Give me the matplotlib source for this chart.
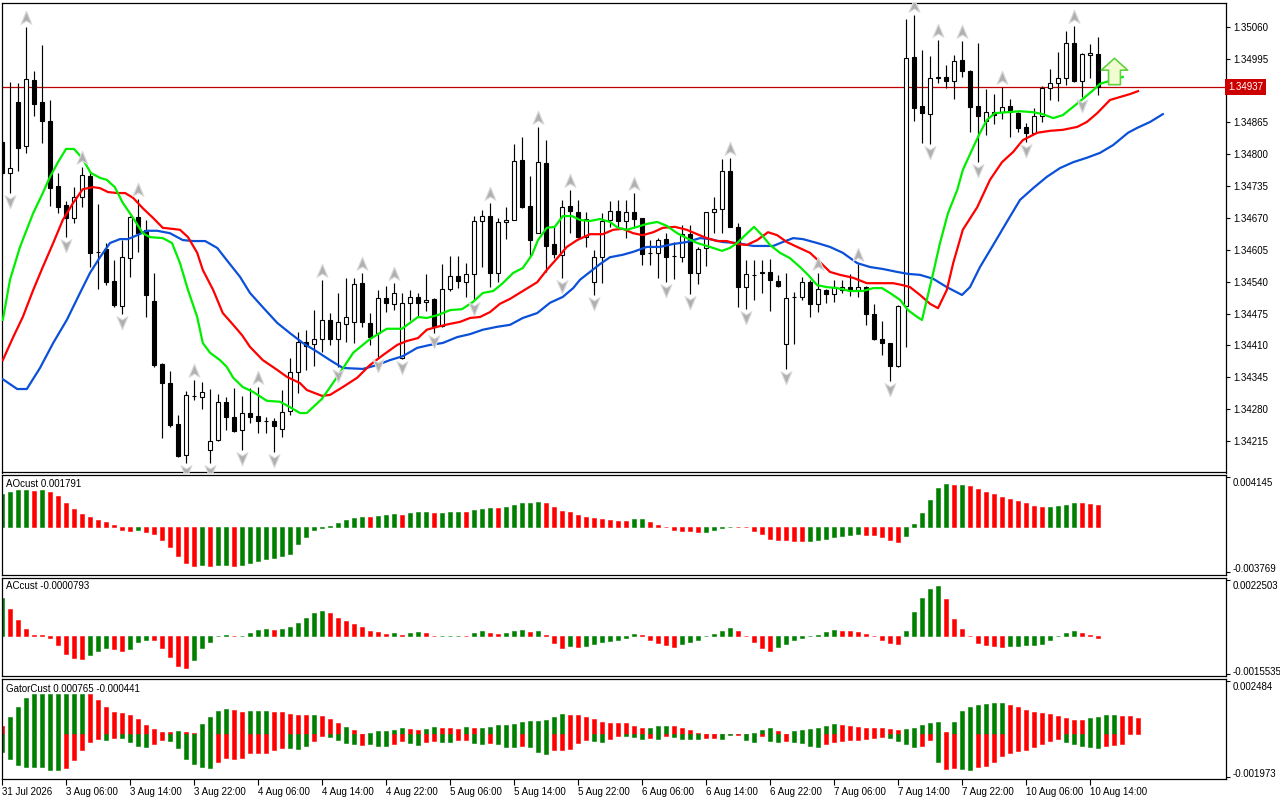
import numpy as np
import matplotlib
matplotlib.use('Agg')
import matplotlib.pyplot as plt
from matplotlib.path import Path
from matplotlib.transforms import offset_copy, blended_transform_factory, ScaledTranslation

plt.rcParams['font.family'] = ['Liberation Sans', 'DejaVu Sans']

# prices are kept as points (1e-5) above BASE
BASE = 1.34

opens = [825, 762, 907, 817, 952, 907, 868, 735, 697, 670,
         713, 756, 601, 607, 542, 490, 588, 672, 646, 501,
         372, 333, 250, 186, 307, 305, 197, 217, 295, 264,
         237, 272, 266, 256, 256, 239, 276, 356, 417, 413,
         423, 462, 423, 454, 458, 537, 456, 435, 507, 495,
         384, 497, 509, 499, 505, 450, 525, 552, 539, 556,
         664, 674, 558, 662, 666, 788, 695, 639, 782, 617,
         595, 695, 682, 631, 539, 590, 666, 684, 664, 682,
         670, 599, 599, 627, 593, 590, 637, 558, 609, 682,
         688, 766, 652, 529, 554, 558, 560, 542, 413, 509,
         509, 539, 495, 523, 515, 523, 529, 523, 529, 474,
         423, 415, 368, 490, 999, 899, 882, 956, 958, 950,
         993, 970, 899, 868, 886, 886, 899, 884, 856, 844,
         878, 935, 946, 956, 1027, 950, 1003, 1005]
highs = [829, 948, 946, 1060, 970, 1023, 911, 762, 705, 733,
         774, 764, 699, 619, 584, 625, 674, 709, 666, 558,
         374, 358, 268, 317, 339, 335, 321, 311, 305, 323,
         307, 323, 325, 264, 262, 319, 384, 437, 442, 482,
         544, 476, 517, 548, 548, 558, 476, 523, 531, 537,
         517, 523, 517, 556, 507, 576, 593, 593, 578, 674,
         686, 701, 670, 692, 821, 835, 756, 856, 829, 652,
         707, 727, 707, 682, 605, 680, 705, 707, 707, 721,
         670, 625, 629, 639, 621, 656, 656, 611, 682, 713,
         790, 793, 660, 584, 584, 584, 586, 554, 558, 519,
         550, 544, 558, 525, 544, 544, 556, 576, 531, 495,
         460, 415, 492, 1076, 1084, 1013, 1001, 1033, 982, 1003,
         1031, 972, 1027, 933, 923, 937, 913, 886, 864, 895,
         939, 974, 1009, 1052, 1062, 1007, 1025, 1039]
lows = [758, 721, 766, 803, 878, 823, 695, 680, 631, 660,
        692, 570, 525, 533, 488, 474, 550, 601, 468, 366,
        221, 244, 182, 170, 299, 280, 170, 215, 237, 233,
        197, 252, 231, 231, 193, 223, 268, 313, 360, 368,
        397, 411, 366, 417, 415, 448, 411, 386, 478, 482,
        382, 462, 470, 480, 435, 448, 521, 527, 509, 503,
        570, 529, 539, 627, 666, 690, 590, 639, 560, 588,
        548, 639, 629, 611, 513, 537, 652, 652, 629, 650,
        574, 574, 548, 539, 546, 580, 515, 535, 572, 639,
        639, 652, 488, 484, 503, 517, 480, 529, 362, 413,
        503, 468, 478, 497, 499, 517, 511, 509, 452, 421,
        390, 337, 366, 407, 868, 823, 821, 946, 935, 913,
        958, 846, 784, 839, 862, 872, 835, 846, 825, 844,
        866, 911, 909, 942, 948, 917, 956, 921]
closes = [762, 772, 813, 954, 903, 868, 731, 692, 670, 713,
          758, 599, 601, 539, 492, 590, 672, 639, 513, 370,
          333, 248, 184, 309, 307, 315, 215, 295, 264, 235,
          272, 264, 256, 256, 246, 274, 356, 417, 409, 423,
          462, 423, 458, 468, 535, 458, 427, 507, 497, 517,
          497, 509, 497, 503, 450, 525, 552, 542, 556, 664,
          674, 558, 662, 666, 786, 692, 625, 784, 613, 597,
          692, 684, 631, 668, 590, 664, 684, 664, 682, 668,
          597, 599, 625, 590, 593, 637, 558, 607, 682, 688,
          766, 652, 529, 556, 554, 560, 544, 531, 507, 509,
          539, 495, 525, 515, 529, 529, 523, 529, 474, 423,
          415, 368, 490, 997, 895, 884, 956, 958, 950, 991,
          970, 897, 878, 886, 880, 897, 886, 854, 844, 878,
          935, 946, 956, 1027, 950, 1005, 1007, 937]

fractal_up = [3, 10, 17, 24, 32, 40, 45, 49, 61, 67, 71, 79, 91, 102, 107,
              114, 117, 120, 125, 134]
fractal_down = [1, 8, 15, 23, 26, 30, 34, 42, 47, 50, 54, 59, 70, 74, 83, 86,
                93, 98, 111, 116, 122, 128, 135]

# alligator lines (bar position, points above BASE)
lips_bar = [0.1, 1.0, 2.25, 3.9, 5.1, 6.0, 7.0, 8.0, 9.0, 10.0,
            11.1, 12.25, 13.1, 14.1, 15.1, 16.4, 17.6, 18.5, 20.1, 21.25,
            22.25, 23.25, 24.4, 25.1, 26.0, 27.25, 28.1, 28.9, 30.1, 31.4,
            33.1, 34.75, 36.0, 37.25, 38.1, 40.0, 42.25, 43.9, 46.0, 48.1,
            50.0, 51.0, 52.0, 53.1, 54.5, 56.0, 57.5, 58.9, 60.1, 61.4,
            62.6, 63.9, 65.1, 66.25, 67.0, 68.1, 69.1, 70.1, 71.25, 72.25,
            73.5, 74.75, 76.0, 77.0, 78.1, 79.4, 80.6, 81.9, 83.1, 84.4,
            85.6, 86.9, 88.5, 90.0, 91.0, 91.9, 92.9, 94.0, 95.0, 96.0,
            97.25, 98.5, 99.75, 100.75, 101.9, 103.1, 104.4, 106.0, 107.6, 108.9,
            110.0, 111.0, 112.25, 113.25, 114.4, 115.0, 115.6, 116.4, 117.25, 118.25,
            119.4, 120.1, 121.25, 122.25, 123.1, 124.1, 125.6, 127.25, 128.9, 130.1,
            131.4, 132.6, 133.9, 135.1, 136.4, 137.25, 138.9, 140.1]
lips_pts = [462, 544, 611, 680, 721, 754, 784, 811, 811, 793,
            762, 752, 748, 733, 701, 670, 639, 631, 629, 619,
            578, 523, 468, 415, 395, 380, 366, 344, 325, 315,
            297, 295, 284, 272, 272, 301, 354, 395, 423, 444,
            444, 456, 468, 466, 472, 482, 484, 499, 517, 521,
            537, 558, 568, 595, 625, 650, 652, 674, 674, 666,
            664, 668, 662, 650, 646, 652, 658, 662, 654, 639,
            629, 619, 611, 603, 609, 619, 635, 652, 635, 615,
            599, 588, 570, 554, 533, 529, 527, 521, 521, 527,
            527, 517, 503, 482, 468, 462, 503, 558, 619, 680,
            727, 768, 809, 844, 870, 884, 886, 888, 886, 882,
            874, 880, 897, 913, 931, 944, 952, 958]

teeth_bar = [0.1, 1.4, 2.6, 3.9, 5.1, 6.4, 7.6, 8.9, 10.1, 11.4,
             12.25, 13.25, 14.4, 15.4, 16.4, 17.6, 18.9, 20.1, 21.25, 22.25,
             23.25, 24.4, 25.1, 26.4, 27.6, 28.9, 30.0, 31.0, 32.6, 34.4,
             35.6, 37.25, 38.1, 40.0, 41.0, 42.6, 44.4, 46.0, 47.6, 49.4,
             50.6, 52.0, 53.1, 54.4, 56.0, 57.25, 58.5, 59.75, 61.0, 62.25,
             63.5, 65.1, 66.9, 68.1, 69.4, 70.6, 71.9, 73.5, 75.1, 76.4,
             77.6, 78.9, 80.1, 81.4, 82.6, 84.1, 85.6, 86.9, 88.1, 89.4,
             90.6, 91.9, 93.1, 94.4, 95.75, 96.9, 98.1, 99.4, 101.0, 102.25,
             103.5, 104.75, 106.4, 108.1, 109.75, 111.4, 112.6, 113.5, 114.75, 116.0,
             117.0, 118.1, 118.9, 120.1, 121.9, 123.5, 125.0, 126.4, 127.6, 129.4,
             131.0, 132.6, 134.4, 135.6, 136.9, 138.5, 139.75, 141.0, 142.0]
teeth_pts = [380, 427, 468, 523, 570, 619, 666, 701, 729, 733,
             731, 723, 721, 721, 711, 690, 670, 650, 648, 646,
             631, 599, 564, 523, 476, 452, 431, 407, 380, 360,
             346, 333, 319, 307, 309, 325, 344, 370, 390, 411,
             419, 425, 442, 448, 454, 458, 466, 468, 478, 495,
             505, 521, 539, 564, 588, 611, 625, 637, 637, 646,
             648, 639, 635, 641, 650, 652, 646, 637, 629, 623,
             623, 617, 615, 625, 641, 635, 621, 611, 599, 580,
             560, 554, 548, 537, 537, 537, 533, 529, 513, 495,
             486, 523, 578, 646, 692, 748, 784, 805, 829, 844,
             848, 850, 856, 866, 884, 911, 917, 923, 929]

jaw_bar = [0.1, 1.9, 3.1, 4.75, 6.4, 8.1, 9.75, 11.0, 12.25, 13.5,
           14.75, 15.75, 16.9, 18.1, 19.4, 21.0, 22.6, 23.9, 25.4, 26.9,
           28.1, 29.75, 31.0, 32.6, 34.4, 36.0, 37.6, 39.4, 41.0, 42.6,
           45.1, 46.9, 48.5, 50.1, 51.9, 53.5, 55.1, 56.9, 58.5, 60.1,
           61.9, 63.5, 65.1, 66.9, 68.5, 70.1, 71.4, 72.25, 73.5, 74.75,
           76.0, 77.6, 78.9, 80.6, 82.25, 83.9, 85.6, 87.25, 88.5, 90.1,
           91.9, 93.9, 96.4, 97.6, 98.9, 100.1, 101.9, 103.5, 105.1, 106.9,
           108.5, 110.1, 111.9, 113.25, 114.75, 116.4, 118.1, 120.0, 121.0, 122.25,
           123.9, 125.6, 127.25, 128.9, 130.6, 132.25, 133.9, 135.6, 137.25, 138.9,
           140.75, 141.9, 143.5, 145.1]
jaw_pts = [341, 321, 321, 364, 415, 462, 517, 558, 590, 619,
           627, 627, 635, 644, 644, 639, 625, 623, 623, 609,
           584, 550, 517, 488, 456, 435, 415, 397, 380, 364,
           362, 370, 380, 388, 405, 411, 415, 427, 433, 442,
           448, 452, 466, 476, 497, 509, 527, 544, 560, 576,
           590, 595, 601, 611, 611, 617, 621, 629, 627, 621,
           619, 613, 613, 621, 629, 627, 619, 611, 599, 578,
           570, 566, 560, 556, 554, 546, 529, 513, 529, 570,
           615, 662, 707, 731, 754, 772, 784, 793, 803, 819,
           844, 854, 866, 882]

signal_bar = [139]
signal_pts = [970]
last_price_pts = 937

# oscillators, values in 1e-6
ao_vals = [2744, 2940, 3080, 3090, 3024, 3080, 2940, 2576, 2016, 1512,
           1064, 840, 588, 420, 140, -252, -336, -308, -420, -616,
           -1120, -1680, -2436, -3052, -3276, -3220, -3276, -3248, -3220, -3276,
           -3248, -3080, -2884, -2716, -2660, -2436, -2296, -1456, -868, -308,
           -70, 56, 280, 560, 756, 840, 812, 896, 980, 1064,
           980, 1148, 1232, 1240, 1148, 1160, 1232, 1240, 1220, 1400,
           1512, 1568, 1550, 1652, 1820, 1988, 2000, 2072, 1988, 1652,
           1316, 1232, 980, 812, 728, 644, 560, 476, 460, 644,
           672, 392, 140, -56, -280, -336, -364, -448, -440, -252,
           -84, -20, -30, -56, -336, -588, -1008, -1092, -1100, -1176,
           -1190, -1180, -1092, -1008, -840, -756, -672, -588, -672, -680,
           -840, -1092, -1260, -756, 224, 1176, 2268, 3276, 3584, 3500,
           3510, 3416, 3164, 2940, 2744, 2520, 2324, 2184, 1988, 1736,
           1652, 1660, 1736, 1820, 1988, 1980, 1904, 1791]
ao_colors = ("GGGGRGRRRR" "RRRRRRRGRR" "RRRRRGRGGR" "GGGGGGGGGG" "GGGGGGRGGG"
             "RGGGRGGGRG" "GGRGGGGGRR" "RRRRRRRRRG" "GRRRRRRRGG" "GGRRRRRRRR"
             "RGGGGGGGRR" "RRRGGGGGGR" "GRRRRRRRRR" "RGGGGRRR")

ac_vals = [1500, 1071, 629, 268, 27, 20, -107, -375, -736, -884,
           -937, -777, -603, -482, -536, -603, -522, -268, -161, -170,
           -482, -857, -1218, -1285, -991, -482, -241, -27, 13, -5,
           7, 120, 241, 268, 228, 268, 348, 509, 710, 924,
           991, 924, 710, 589, 469, 348, 201, 134, 54, 107,
           27, 107, 161, 107, -27, -13, -8, -3, -8, 107,
           201, 107, 67, 107, 201, 241, 161, 201, 13, -281,
           -482, -402, -442, -402, -321, -241, -201, -161, -80, 67,
           13, -161, -281, -375, -455, -321, -241, -161, -27, 67,
           201, 308, 201, -27, -241, -482, -603, -442, -321, -187,
           -107, -27, 13, 147, 228, 187, 180, 147, 67, -27,
           -161, -281, -335, 187, 951, 1513, 1875, 1995, 1473, 670,
           268, -27, -281, -362, -402, -442, -402, -395, -362, -355,
           -321, -161, -27, 107, 187, 107, 13, -79.3]
ac_colors = ("GRRRRRRRRR" "RGGGRRGGGR" "RRRRGGGGGR" "GGGGRGGGGG" "GRRRRRRRRG"
             "RGGRRGGGRG" "GRRGGGRGRR" "RGRGGGGGGG" "RRRRRGGGGG" "GGRRRRRGGG"
             "GGGGGRRRRR" "RRRGGGGGRR" "RRRRRRGGGG" "GGGGGRRR")

gator_up = [404, 808, 1273, 1677, 1879, 1879, 1879, 1879, 1879, 1879,
            1879, 1870, 1584, 1289, 1041, 978, 901, 714, 435, 248,
            93, 109, 155, 109, 47, 481, 808, 1087, 1165, 1118,
            1056, 1087, 1090, 1095, 1025, 1020, 947, 901, 895, 905,
            870, 714, 512, 342, 202, 31, 78, 140, 155, 202,
            295, 248, 202, 248, 342, 295, 290, 248, 342, 295,
            300, 342, 435, 440, 481, 575, 621, 625, 668, 808,
            947, 901, 895, 808, 714, 575, 528, 525, 520, 388,
            295, 300, 388, 392, 385, 295, 202, 62, 16, 8,
            16, 12, 16, 10, 78, 202, 295, 155, 16, 155,
            202, 248, 295, 388, 481, 435, 388, 342, 295, 290,
            285, 248, 202, 248, 295, 435, 528, 575, 109, 575,
            1087, 1273, 1367, 1413, 1460, 1465, 1367, 1273, 1134, 1041,
            994, 947, 854, 761, 668, 665, 761, 808, 901, 905,
            854, 850, 765]
gator_up_colors = ("RGGGGGGGGG" "GRRRRRRRRR" "RRGRRGGGGR" "RGGGRRRRRG" "RRRGRRGGGG"
                   "GRRGGRRRGR" "GGGGGGGGGG" "GRRRRRRRRR" "RGGGRRRRRR" "GRGRGGGRRG"
                   "GGGGGRRRRR" "RRRGGGGGRG" "GGGGGGRRRR" "RRRRRRGGGG" "RRR")
gator_down = [-808, -1149, -1429, -1522, -1522, -1525, -1662, -1665, -1553, -1196,
              -730, -342, -217, -264, -155, -160, -342, -528, -575, -435,
              -264, -311, -621, -1149, -1367, -1522, -1569, -1273, -1118, -1149,
              -1118, -885, -880, -854, -730, -621, -625, -683, -528, -295,
              -62, -109, -264, -388, -466, -497, -466, -528, -530, -450,
              -295, -388, -497, -342, -295, -342, -345, -264, -260, -388,
              -435, -388, -435, -575, -580, -528, -575, -808, -901, -730,
              -725, -683, -388, -264, -311, -342, -217, -62, -78, -124,
              -202, -171, -217, -62, -124, -202, -205, -208, -171, -155,
              -202, -31, -28, -248, -342, -62, -295, -342, -295, -342,
              -388, -528, -575, -435, -342, -295, -264, -260, -202, -155,
              -124, -155, -295, -435, -575, -528, -248, -1273, -1600, -1553,
              -1600, -1662, -1506, -1460, -1273, -994, -854, -761, -730, -575,
              -435, -295, -202, -342, -435, -528, -575, -621, -528, -481,
              -441]
gator_down_colors = ("GGGGGGGGRR" "RRRGRGGGGR" "RGGGGGGRRR" "RRRRRRGGGR" "RGGGGRGGGR"
                     "RGGRRGGRRG" "GRGGGRGGGR" "RRRRGGRRGG" "GRGRGGGGRR" "GGRGGRGGRG"
                     "GGGRRRRRRR" "RGGGGRRGRR" "GGRRRRRRRR" "RRRGGGGGRR" "R")

y_ticks = ['1.35060', '1.34995', '1.34930', '1.34865', '1.34800', '1.34735',
           '1.34670', '1.34605', '1.34540', '1.34475', '1.34410', '1.34345',
           '1.34280', '1.34215']
time_bars = [0, 8, 16, 24, 32, 40, 48, 56, 64, 72, 80, 88, 96, 104, 112, 120, 128, 136]
time_labels = ['31 Jul 2026', '3 Aug 06:00', '3 Aug 14:00', '3 Aug 22:00', '4 Aug 06:00',
               '4 Aug 14:00', '4 Aug 22:00', '5 Aug 06:00', '5 Aug 14:00', '5 Aug 22:00',
               '6 Aug 06:00', '6 Aug 14:00', '6 Aug 22:00', '7 Aug 06:00', '7 Aug 14:00',
               '7 Aug 22:00', '10 Aug 06:00', '10 Aug 14:00']

GREEN = '#008000'
RED = '#ff0000'
FS = 7

def px(v):
    return BASE + np.asarray(v, dtype=float) / 1e5

def cols(s):
    return [GREEN if ch == 'G' else RED for ch in s]

W, H = 1280, 800
def box(x0, y0, x1, y1):
    return [x0 / W, 1 - y1 / H, (x1 - x0) / W, (y1 - y0) / H]

fig = plt.figure(figsize=(12.8, 8), dpi=100)
ax = fig.add_axes(box(2, 3, 1226, 472.5))
ax_ao = fig.add_axes(box(2, 475.3, 1226, 575.3), sharex=ax)
ax_ac = fig.add_axes(box(2, 577.7, 1226, 676.3), sharex=ax)
ax_g = fig.add_axes(box(2, 679, 1226, 779), sharex=ax)

for a in (ax, ax_ao, ax_ac, ax_g):
    for s in a.spines.values():
        s.set_linewidth(0.9)
        s.set_color('black')
    a.yaxis.tick_right()
    a.tick_params(axis='y', direction='out', length=3, pad=2, labelsize=FS, width=0.8)
    a.tick_params(axis='x', bottom=False, labelbottom=False)

ax.set_xlim(0, 153)

# candles
idx = np.arange(len(opens))
o, h, l, c = px(opens), px(highs), px(lows), px(closes)
ax.vlines(idx, l, h, color='black', lw=0.85, zorder=2)
body_col = ['white' if cc >= oo else 'black' for oo, cc in zip(o, c)]
ax.bar(idx, np.abs(c - o), bottom=np.minimum(o, c), width=0.6, color=body_col,
       edgecolor='black', linewidth=0.8, zorder=3)

# alligator
ax.plot(jaw_bar, px(jaw_pts), color='#0a50d8', lw=1.6, zorder=4)
ax.plot(teeth_bar, px(teeth_pts), color='#ff0000', lw=1.6, zorder=4)
ax.plot(lips_bar, px(lips_pts), color='#00ee00', lw=1.6, zorder=4)

# fractals
up_path = Path([(0, 1), (0.75, -0.8), (0, -0.35), (-0.75, -0.8), (0, 1)],
               [Path.MOVETO, Path.LINETO, Path.LINETO, Path.LINETO, Path.CLOSEPOLY])
dn_path = Path([(0, -1), (0.75, 0.8), (0, 0.35), (-0.75, 0.8), (0, -1)],
               [Path.MOVETO, Path.LINETO, Path.LINETO, Path.LINETO, Path.CLOSEPOLY])
ax.plot(fractal_up, h[fractal_up], ls='none', marker=up_path, ms=10.5,
        mfc='#b0b0b0', mec='#dcdcdc', mew=0.8, zorder=5,
        transform=offset_copy(ax.transData, fig=fig, y=9, units='dots'))
ax.plot(fractal_down, l[fractal_down], ls='none', marker=dn_path, ms=10.5,
        mfc='#b0b0b0', mec='#dcdcdc', mew=0.8, zorder=5,
        transform=offset_copy(ax.transData, fig=fig, y=-8, units='dots'))

# signal arrow
sig_path = Path([(0, 1), (1, 0.1), (0.45, 0.1), (0.45, -1), (-0.45, -1), (-0.45, 0.1),
                 (-1, 0.1), (0, 1)],
                [Path.MOVETO] + [Path.LINETO] * 6 + [Path.CLOSEPOLY])
ax.plot(signal_bar, px(signal_pts), ls='none', marker=sig_path, ms=19,
        mfc='#f2fcd2', mec='#62d040', mew=1.2, zorder=6)

# last price line and its label (covers the 1.34930 tick)
lp = px(last_price_pts)
ax.axhline(lp, color='#c00000', lw=0.9, zorder=1)
ax.set_ylim(1.341506, 1.351089)
ax.set_yticks([float(t) for t in y_ticks])
ax.set_yticklabels(['' if t == '1.34930' else t for t in y_ticks])
ax.text(1.0018, lp, f'{lp:.5f}', transform=blended_transform_factory(ax.transAxes, ax.transData),
        ha='left', va='center', color='white', fontsize=FS, zorder=10, clip_on=False,
        bbox=dict(boxstyle='square,pad=0.3', fc='#cc0000', ec='none'))

# sub-window value labels sit just inside the top / bottom ticks
down_shift = ScaledTranslation(0, -3.5 / 72, fig.dpi_scale_trans)
up_shift = ScaledTranslation(0, 2.5 / 72, fig.dpi_scale_trans)

def sub_ticks(a, values, labels):
    a.set_yticks(values)
    a.set_yticklabels(labels)
    tl = a.get_yticklabels()
    tl[0].set_transform(tl[0].get_transform() + down_shift)
    tl[1].set_transform(tl[1].get_transform() + up_shift)

# AO
ax_ao.bar(idx, np.array(ao_vals) * 1e-6, width=0.42, color=cols(ao_colors),
          edgecolor=cols(ao_colors), linewidth=0.4)
ax_ao.set_ylim(-0.004082, 0.004318)
sub_ticks(ax_ao, [0.004145, -0.003769], ['0.004145', '-0.003769'])
ax_ao.text(0.0033, 0.913, 'AOcust 0.001791', transform=ax_ao.transAxes,
           fontsize=FS, va='center', ha='left')

# AC
ax_ac.bar(idx, np.array(ac_vals) * 1e-6, width=0.42, color=cols(ac_colors),
          edgecolor=cols(ac_colors), linewidth=0.4)
ax_ac.set_ylim(-0.001632, 0.002329)
sub_ticks(ax_ac, [0.0022503, -0.0015535], ['0.0022503', '-0.0015535'])
ax_ac.text(0.0033, 0.916, 'ACcust -0.0000793', transform=ax_ac.transAxes,
           fontsize=FS, va='center', ha='left')

# Gator
gi_up = np.arange(len(gator_up))
gi_dn = np.arange(len(gator_down))
ax_g.bar(gi_up, np.array(gator_up) * 1e-6, width=0.42, color=cols(gator_up_colors),
         edgecolor=cols(gator_up_colors), linewidth=0.4)
ax_g.bar(gi_dn, np.array(gator_down) * 1e-6, width=0.42, color=cols(gator_down_colors),
         edgecolor=cols(gator_down_colors), linewidth=0.4)
ax_g.set_ylim(-0.002081, 0.002578)
sub_ticks(ax_g, [0.002484, -0.001973], ['0.002484', '-0.001973'])
ax_g.text(0.0033, 0.905, 'GatorCust 0.000765 -0.000441', transform=ax_g.transAxes,
          fontsize=FS, va='center', ha='left')

ax_g.tick_params(axis='x', bottom=True, labelbottom=True, direction='out', length=4,
                 width=0.8, pad=1.5, labelsize=FS)
ax_g.set_xticks(time_bars)
ax_g.set_xticklabels(time_labels, ha='left')
ax.set_xlim(0, 153)

fig.savefig('out.png', dpi=100, facecolor='white')
